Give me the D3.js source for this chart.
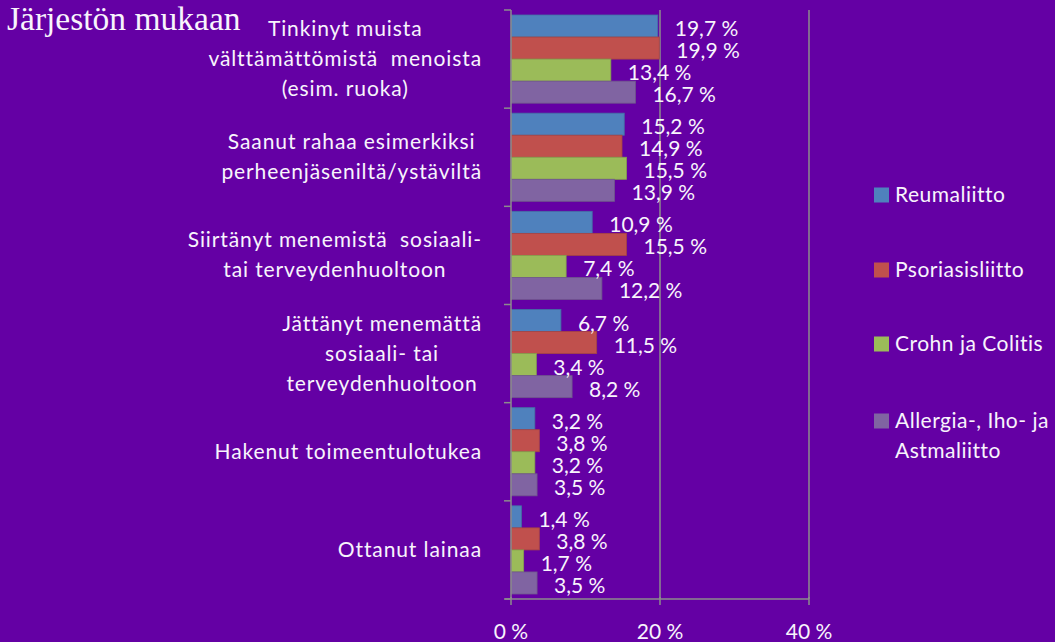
<!DOCTYPE html>
<html>
<head>
<meta charset="utf-8">
<script src="https://cdn.jsdelivr.net/npm/d3@7"></script>
<style>
  html, body { margin: 0; padding: 0; background: #6400a4; }
  svg { display: block; }
  text { font-family: Lato, "Open Sans", sans-serif; fill: #f8f4fc; white-space: pre; }
</style>
</head>
<body>
<div id="chart"></div>
<script>
// Category labels (already wrapped into lines)
const categories = [
    ["Tinkinyt muista", "välttämättömistä  menoista", "(esim. ruoka)"],
    ["Saanut rahaa esimerkiksi", "perheenjäseniltä/ystäviltä"],
    ["Siirtänyt menemistä  sosiaali-", "tai terveydenhuoltoon"],
    ["Jättänyt menemättä", "sosiaali- tai", "terveydenhuoltoon"],
    ["Hakenut toimeentulotukea"],
    ["Ottanut lainaa"]
];

const seriesNames = ["Reumaliitto", "Psoriasisliitto", "Crohn ja Colitis", "Allergia-, Iho- ja Astmaliitto"];
const legendLines = [["Reumaliitto"], ["Psoriasisliitto"], ["Crohn ja Colitis"], ["Allergia-, Iho- ja", "Astmaliitto"]];

// Values in percent, one per category
const reumaliitto     = [19.7, 15.2, 10.9, 6.7, 3.2, 1.4];
const psoriasisliitto = [19.9, 14.9, 15.5, 11.5, 3.8, 3.8];
const crohnColitis    = [13.4, 15.5, 7.4, 3.4, 3.2, 1.7];
const allergialiitto  = [16.7, 13.9, 12.2, 8.2, 3.5, 3.5];

const tickValues = [0, 20, 40];
const tickLabels = ["0 %", "20 %", "40 %"];

const seriesValues = [reumaliitto, psoriasisliitto, crohnColitis, allergialiitto];
const colors = ["#4f81bd", "#c0504d", "#9bbb59", "#8064a2"];

const W = 1055, H = 642;
const plot = { left: 511, right: 809, top: 10, bottom: 599 };

const svg = d3.select("#chart").append("svg")
    .attr("width", W)
    .attr("height", H);

svg.append("rect").attr("width", W).attr("height", H).attr("fill", "#6400a4");

// Title
svg.append("text")
    .attr("x", 7)
    .attr("y", 30)
    .style("font-family", "'Liberation Serif', 'DejaVu Serif', serif")
    .style("font-size", "33.5px")
    .text("Järjestön mukaan");

// Scales
const x = d3.scaleLinear().domain([0, 40]).range([plot.left, plot.right]);
const y0 = d3.scaleBand().domain(d3.range(categories.length)).range([plot.top, plot.bottom]);
const y1 = d3.scaleBand().domain(d3.range(seriesNames.length)).range([5, y0.bandwidth() - 5]);

const gridColor = "#8c8c8c";

// Vertical gridlines
svg.append("g")
    .selectAll("line")
    .data(tickValues.filter(d => d > 0))
    .join("line")
    .attr("x1", d => x(d)).attr("x2", d => x(d))
    .attr("y1", plot.top).attr("y2", plot.bottom)
    .attr("stroke", gridColor)
    .attr("stroke-width", 1.5);

// Bars
const groups = svg.append("g")
    .selectAll("g")
    .data(categories)
    .join("g")
    .attr("transform", (d, i) => `translate(0,${y0(i)})`);

groups.selectAll("rect")
    .data((d, i) => seriesValues.map((vals, s) => ({ s: s, v: vals[i] })))
    .join("rect")
    .attr("x", x(0))
    .attr("y", d => y1(d.s))
    .attr("width", d => x(d.v) - x(0))
    .attr("height", y1.bandwidth())
    .attr("fill", d => colors[d.s])
    .attr("stroke", d => d3.color(colors[d.s]).darker(0.4))
    .attr("stroke-width", 0.8);

// Value labels
groups.selectAll("text.value")
    .data((d, i) => seriesValues.map((vals, s) => ({ s: s, v: vals[i] })))
    .join("text")
    .attr("class", "value")
    .attr("x", d => x(d.v) + 17)
    .attr("y", d => y1(d.s) + y1.bandwidth() / 2 + 10)
    .style("font-size", "21px")
    .text(d => d.v.toFixed(1).replace(".", ",") + " %");

// Axes
const axisG = svg.append("g").attr("stroke", gridColor).attr("stroke-width", 1.5);
axisG.append("line")
    .attr("x1", x(0)).attr("x2", x(0))
    .attr("y1", plot.top).attr("y2", plot.bottom);
axisG.append("line")
    .attr("x1", x(0) - 6).attr("x2", plot.right)
    .attr("y1", plot.bottom).attr("y2", plot.bottom);
// category boundary ticks
axisG.selectAll("line.ytick")
    .data(d3.range(categories.length + 1))
    .join("line")
    .attr("class", "ytick")
    .attr("x1", x(0) - 7).attr("x2", x(0))
    .attr("y1", i => i < categories.length ? y0(i) : plot.bottom)
    .attr("y2", i => i < categories.length ? y0(i) : plot.bottom);
// x ticks
axisG.selectAll("line.xtick")
    .data(tickValues)
    .join("line")
    .attr("class", "xtick")
    .attr("x1", d => x(d)).attr("x2", d => x(d))
    .attr("y1", plot.bottom - 2).attr("y2", plot.bottom + 6);

svg.append("g")
    .selectAll("text")
    .data(tickValues)
    .join("text")
    .attr("x", d => x(d))
    .attr("y", 639)
    .attr("text-anchor", "middle")
    .style("font-size", "21px")
    .text((d, i) => tickLabels[i]);

// Category labels: lines centred within a block that is right-aligned to the axis
const labelRight = 482;
const lineH = 30;
categories.forEach((lines, i) => {
    const cy = y0(i) + y0.bandwidth() / 2;
    const g = svg.append("g");
    const texts = lines.map((line, k) => g.append("text")
        .attr("y", cy + (k - (lines.length - 1) / 2) * lineH + 7)
        .attr("text-anchor", "middle")
        .style("font-size", "21px")
        .style("letter-spacing", "0.9px")
        .text(line));
    const maxW = d3.max(texts, t => t.node().getComputedTextLength());
    texts.forEach(t => t.attr("x", labelRight - maxW / 2));
});

// Legend
const legendY = [195, 270, 344, 421];
seriesNames.forEach((name, s) => {
    const g = svg.append("g");
    g.append("rect")
        .attr("x", 874)
        .attr("y", legendY[s] - 7.5)
        .attr("width", 15)
        .attr("height", 15)
        .attr("fill", colors[s]);
    legendLines[s].forEach((line, k) => {
        g.append("text")
            .attr("x", 895)
            .attr("y", legendY[s] + 7 + k * lineH)
            .style("font-size", "21px")
            .style("letter-spacing", "0.5px")
            .text(line);
    });
});
</script>
</body>
</html>
